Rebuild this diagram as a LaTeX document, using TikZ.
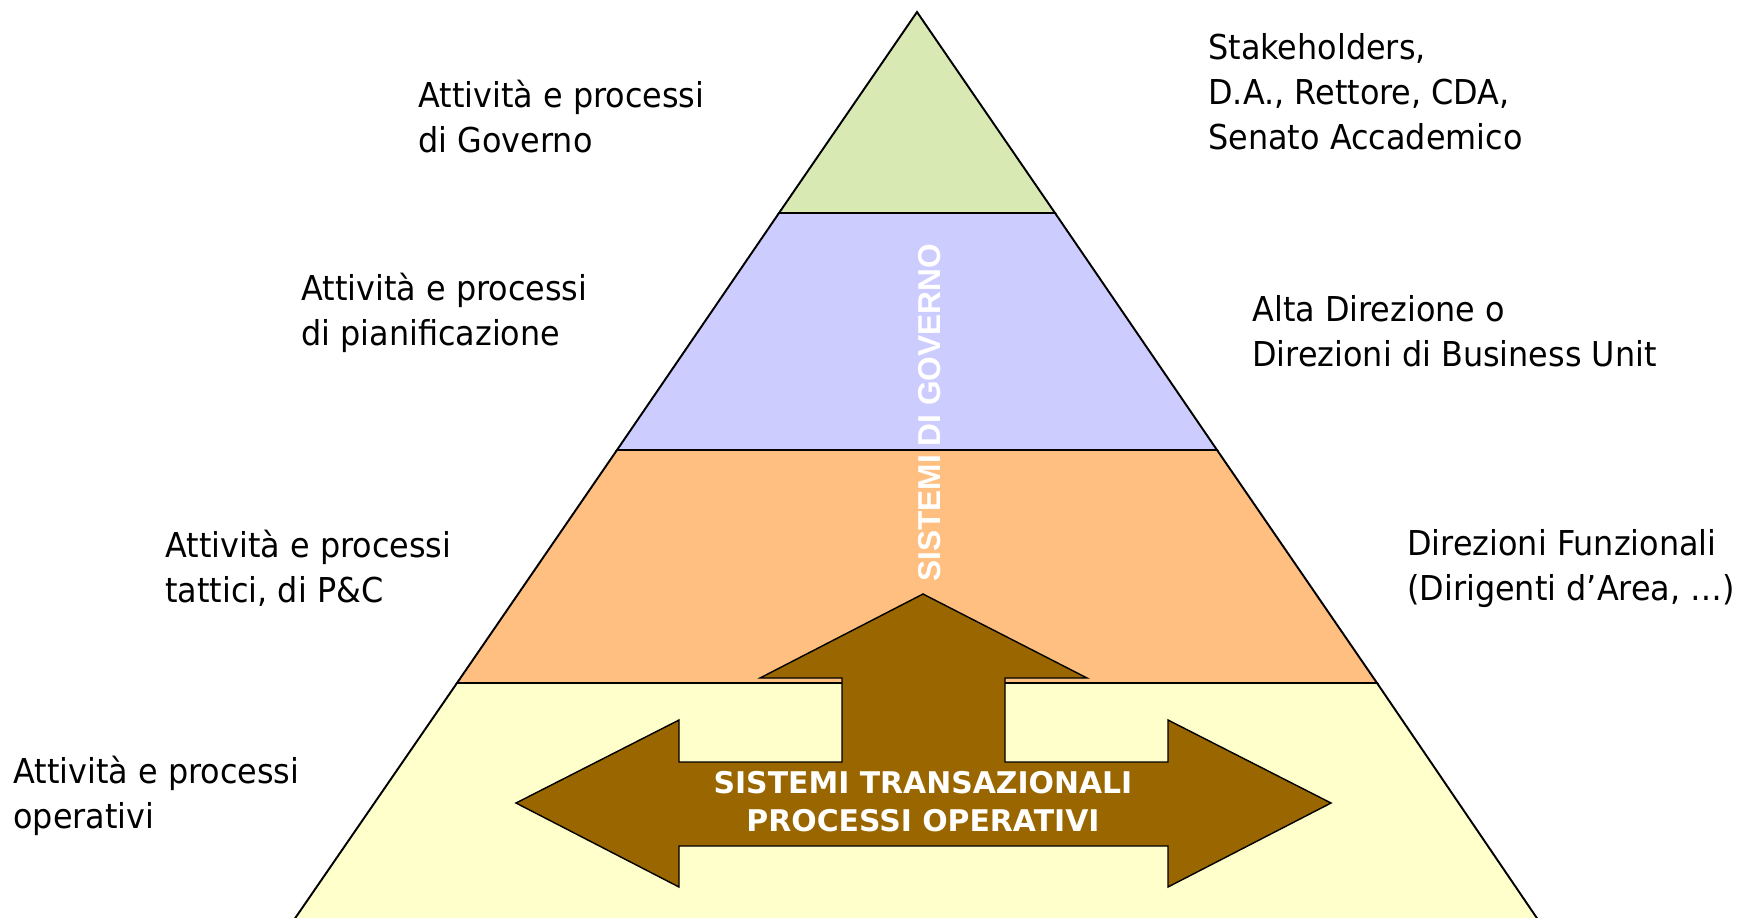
\documentclass[tikz,border=0pt]{standalone}
\usepackage{fontspec}
\setmainfont[FakeStretch=0.93]{DejaVu Sans}
\newfontfamily\govfont{Liberation Sans}
\newfontfamily\transfont{DejaVu Sans}
\definecolor{govgreen}{HTML}{D8E9B4}
\definecolor{pianblue}{HTML}{CCCCFF}
\definecolor{tattorange}{HTML}{FFBF80}
\definecolor{opyellow}{HTML}{FFFFCC}
\definecolor{arrowbrown}{HTML}{996600}

\begin{document}
\begin{tikzpicture}[x=0.2mm, y=-0.2mm,
    band/.style={draw=black, line width=1.1pt},
    lab/.style={anchor=base west, align=left, inner sep=0pt,
      font=\fontsize{19.5}{25.6}\selectfont}]
  \useasboundingbox (0,0) rectangle (1756,917);
  \begin{scope}
    \clip (0,0) rectangle (1756,917);
    \draw[band, fill=opyellow] (457,683) -- (1377,683) -- (1545,930) -- (287,930) -- cycle;
    \draw[band, fill=tattorange] (617,450) -- (1217,450) -- (1377,683) -- (457,683) -- cycle;
    \draw[band, fill=pianblue] (779,213) -- (1055,213) -- (1217,450) -- (617,450) -- cycle;
    \draw[band, fill=govgreen] (917,12) -- (1055,213) -- (779,213) -- cycle;
  \end{scope}

  % frecce
  \draw[line width=0.8pt, fill=arrowbrown] (516,803) -- (679,720) -- (679,762) -- (842,762)
    -- (842,678) -- (760,678) -- (923,594) -- (1087,678) -- (1005,678) -- (1005,762)
    -- (1168,762) -- (1168,720) -- (1331,803) -- (1168,887) -- (1168,846) -- (679,846)
    -- (679,887) -- cycle;
  \node[anchor=base, align=center, inner sep=0pt, text=white,
    font=\transfont\fontsize{17}{21.6}\selectfont\bfseries] (trans) at (923,831)
    {SISTEMI TRANSAZIONALI\\PROCESSI OPERATIVI};
  \node[rotate=90, inner sep=0pt, text=white,
    font=\govfont\fontsize{18}{20}\selectfont\bfseries] (sisgov) at (930,413)
    {SISTEMI DI GOVERNO};

  % etichette (ancorate all'ultima riga)
  \node[lab] (lgov) at (418,152) {Attività e processi\\di Governo};
  \node[lab] (lpian) at (301,345) {Attività e processi\\di pianificazione};
  \node[lab] (ltatt) at (165,602) {Attività e processi\\tattici, di P\&C};
  \node[lab] (lop) at (13,828) {Attività e processi\\operativi};
  \node[lab] (rstake) at (1208,149) {Stakeholders,\\D.A., Rettore, CDA,\\Senato Accademico};
  \node[lab] (ralta) at (1252,366) {Alta Direzione o\\Direzioni di Business Unit};
  \node[lab] (rfunz) at (1407,600) {Direzioni Funzionali\\(Dirigenti d’Area, …)};
\end{tikzpicture}
\end{document}
